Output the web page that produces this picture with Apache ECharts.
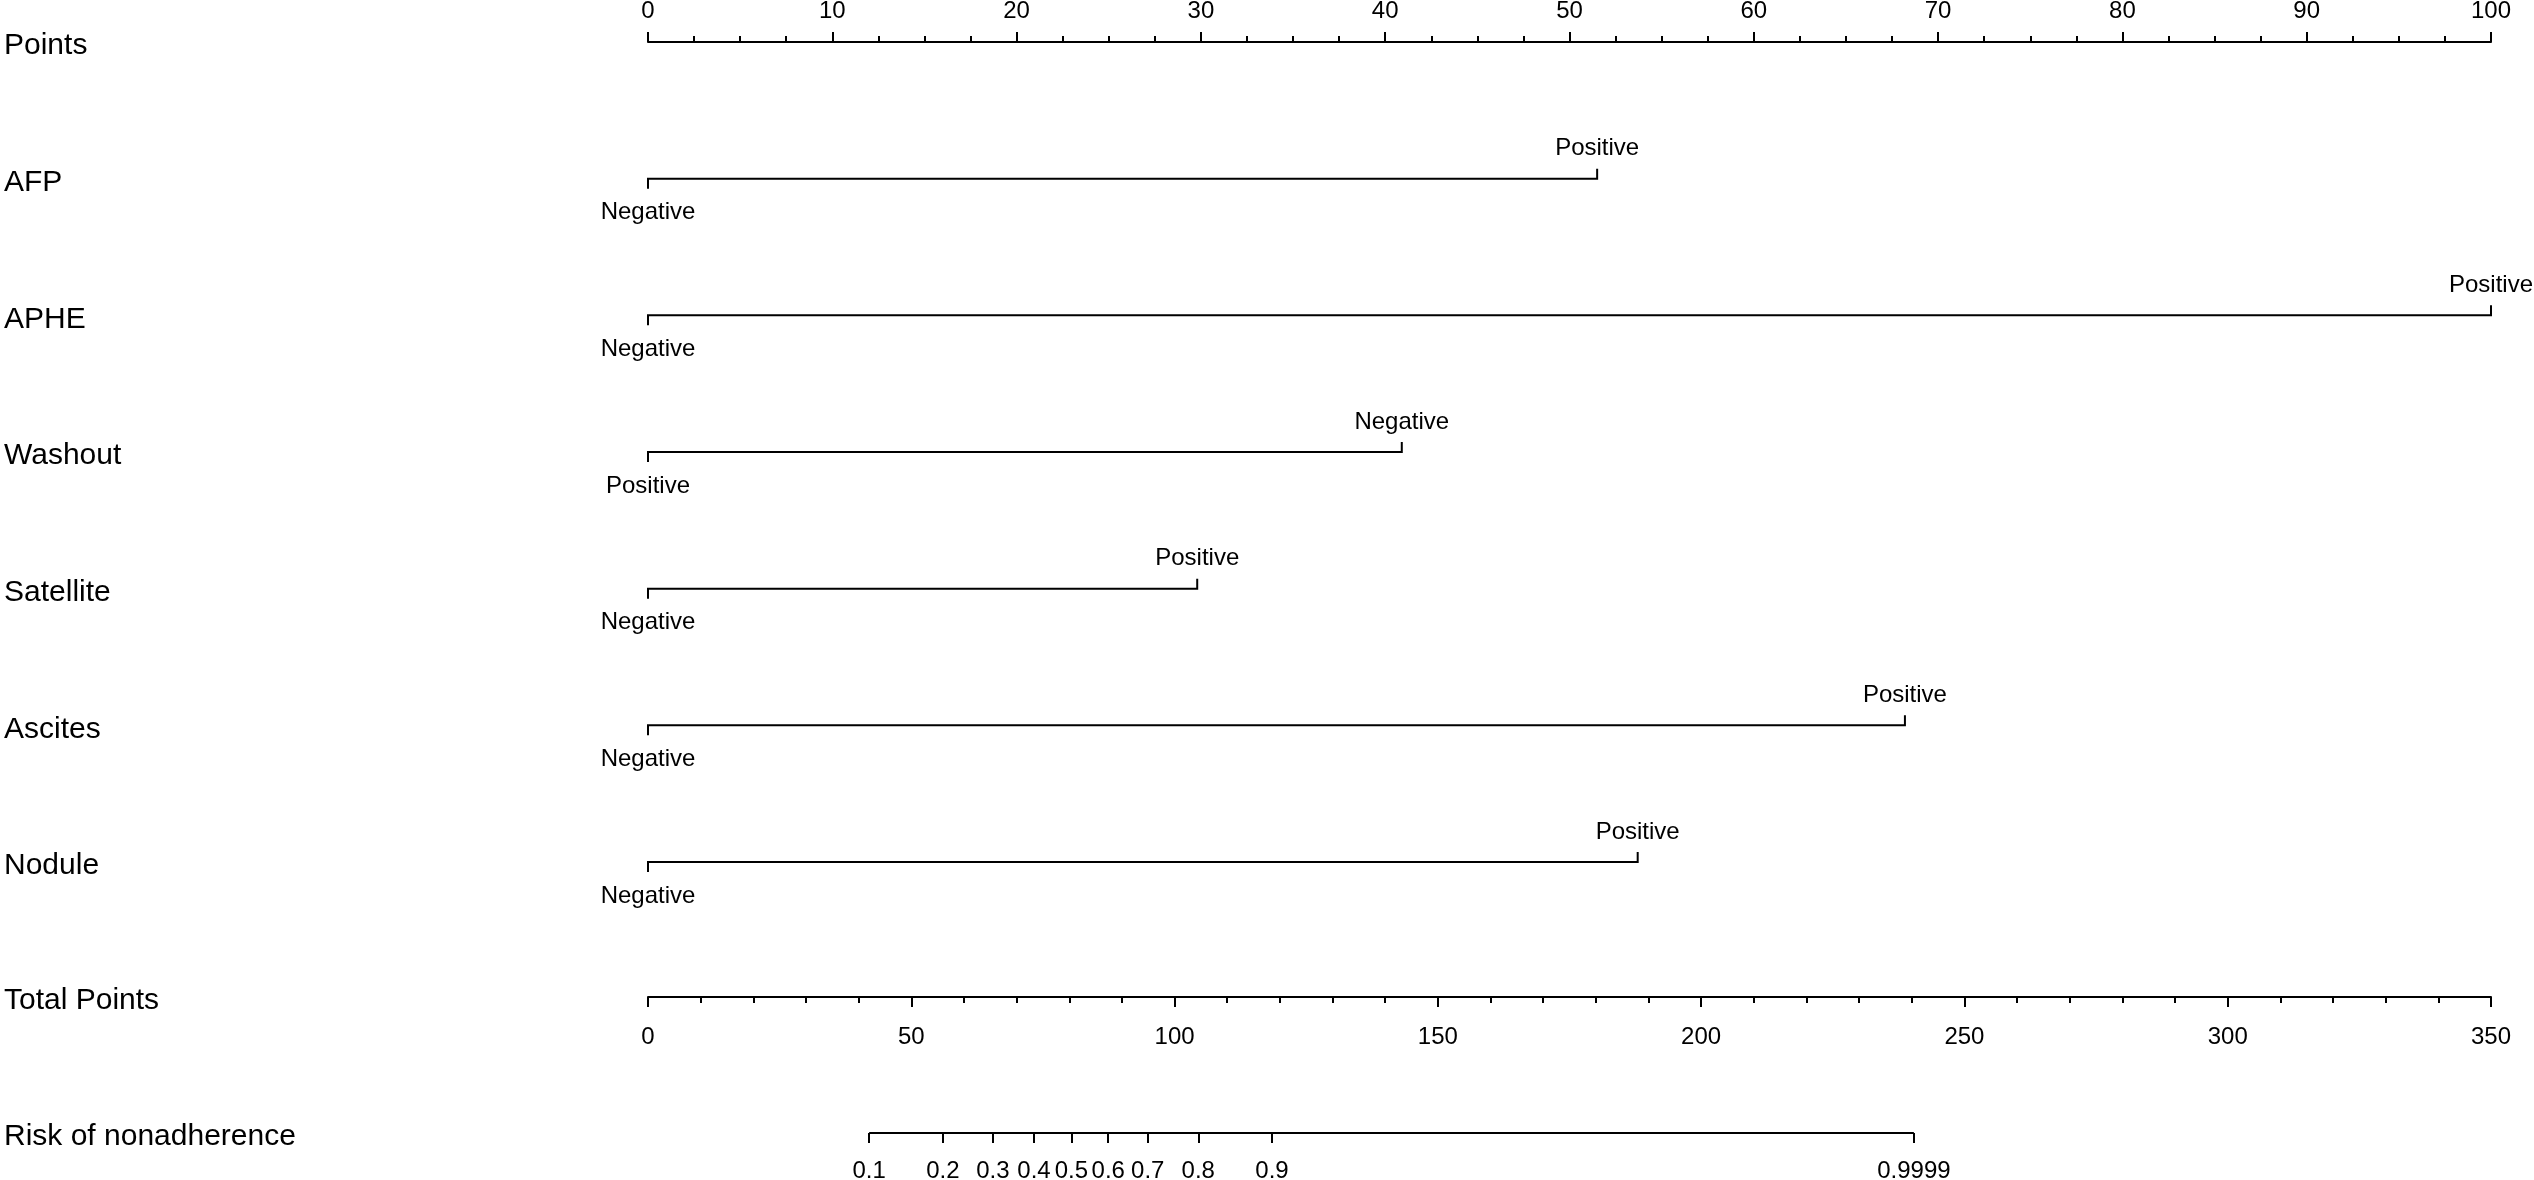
<!DOCTYPE html>
<html><head><meta charset="utf-8">
<script src="https://cdn.jsdelivr.net/npm/echarts@6/dist/echarts.min.js"></script>
<style>html,body{margin:0;padding:0;background:#fff}#c{width:2534px;height:1180px}</style>
</head><body><div id="c"></div>
<script>
// ---- data ----
const rowNames = ['Points', 'AFP', 'APHE', 'Washout', 'Satellite', 'Ascites', 'Nodule'];
const varNames = ['AFP', 'APHE', 'Washout', 'Satellite', 'Ascites', 'Nodule'];
const lowLabels = ['Negative', 'Negative', 'Positive', 'Negative', 'Negative', 'Negative'];
const highLabels = ['Positive', 'Positive', 'Negative', 'Positive', 'Positive', 'Positive'];
const highPoints = [51.5, 100, 40.9, 29.8, 68.2, 53.7];
const pointsMin = 0, pointsMax = 100, pointsStep = 10;
const totalRowNames = ['Total Points', 'Risk of nonadherence'];
const totalMin = 0, totalMax = 350, totalStep = 50;
const riskLabels = ['0.1', '0.2', '0.3', '0.4', '0.5', '0.6', '0.7', '0.8', '0.9', '0.9999'];
const riskTotalPoints = [42.0, 56.0, 65.5, 73.3, 80.4, 87.4, 94.9, 104.5, 118.5, 240.4];

const FONT = '"Liberation Sans", Arial, Helvetica, sans-serif';
const INK = '#000';
const LW = 2;

const chart = echarts.init(document.getElementById('c'), null, {renderer: 'canvas'});

const tickFont = 24;
const nameFont = 30;

const nameLabel = {
  show: true, interval: 0, align: 'left', margin: 644, color: INK, fontSize: nameFont, fontFamily: FONT,
  formatter: function (v) { return '{n|' + v + '}'; },
  rich: {n: {fontSize: nameFont, fontFamily: FONT, color: INK, padding: [8, 0, 0, 0]}}
};

const option = {
  backgroundColor: '#fff',
  animation: false,
  grid: [
    {left: 648, right: 43, top: 42, bottom: 318, outerBoundsMode: 'none', containLabel: false},
    {left: 648, right: 43, top: 997, bottom: 47, outerBoundsMode: 'none', containLabel: false}
  ],
  xAxis: [
    {
      gridIndex: 0, type: 'value', position: 'top', min: pointsMin, max: pointsMax, interval: pointsStep,
      axisLine: {show: true, lineStyle: {color: INK, width: LW}},
      axisTick: {show: true, length: 10, lineStyle: {color: INK, width: LW}},
      minorTick: {show: true, splitNumber: 4, length: 6, lineStyle: {color: INK, width: LW}},
      axisLabel: {show: true, margin: 19, color: INK, fontSize: tickFont, fontFamily: FONT, showMinLabel: true, showMaxLabel: true},
      splitLine: {show: false}, minorSplitLine: {show: false}
    },
    {
      gridIndex: 1, type: 'value', position: 'top', min: totalMin, max: totalMax, interval: totalStep,
      axisLine: {show: true, lineStyle: {color: INK, width: LW}},
      axisTick: {show: true, inside: true, length: 10, lineStyle: {color: INK, width: LW}},
      minorTick: {show: true, splitNumber: 5, length: 6, lineStyle: {color: INK, width: LW}},
      axisLabel: {show: true, inside: true, margin: 28, color: INK, fontSize: tickFont, fontFamily: FONT, showMinLabel: true, showMaxLabel: true},
      splitLine: {show: false}, minorSplitLine: {show: false}
    },
    {
      gridIndex: 1, type: 'value', position: 'bottom', min: totalMin, max: totalMax,
      axisLine: {show: false},
      axisTick: {show: true, length: 10, customValues: riskTotalPoints, lineStyle: {color: INK, width: LW}},
      axisLabel: {
        show: true, margin: 26, color: INK, fontSize: tickFont, fontFamily: FONT,
        customValues: riskTotalPoints,
        formatter: function (v) {
          let best = 0, d = Infinity;
          riskTotalPoints.forEach(function (p, i) { if (Math.abs(p - v) < d) { d = Math.abs(p - v); best = i; } });
          return riskLabels[best];
        }
      },
      splitLine: {show: false}
    }
  ],
  yAxis: [
    {
      gridIndex: 0, type: 'category', data: rowNames, inverse: true, boundaryGap: false,
      axisLine: {show: false}, axisTick: {show: false}, splitLine: {show: false},
      axisLabel: nameLabel
    },
    {
      gridIndex: 1, type: 'category', data: totalRowNames, inverse: true, boundaryGap: false,
      axisLine: {show: false}, axisTick: {show: false}, splitLine: {show: false},
      axisLabel: nameLabel
    }
  ],
  series: [
    {
      type: 'custom', xAxisIndex: 0, yAxisIndex: 0, silent: true, clip: false,
      data: varNames.map(function (n, i) { return [highPoints[i], n]; }),
      encode: {x: 0, y: 1},
      renderItem: function (params, api) {
        const i = params.dataIndex;
        const v = api.value(0);
        const row = api.value(1);
        const p0 = api.coord([0, row]);
        const p1 = api.coord([v, row]);
        return {
          type: 'group',
          children: [
            {type: 'polyline', shape: {points: [[p0[0], p0[1] + 10], [p0[0], p0[1]], [p1[0], p1[1]], [p1[0], p1[1] - 10]]},
             style: {stroke: INK, lineWidth: LW, fill: null}},
            {type: 'text', x: p0[0], y: p0[1] + 34,
             style: {text: lowLabels[i], fill: INK, fontSize: tickFont, fontFamily: FONT, align: 'center', verticalAlign: 'middle'}},
            {type: 'text', x: p1[0], y: p1[1] - 30,
             style: {text: highLabels[i], fill: INK, fontSize: tickFont, fontFamily: FONT, align: 'center', verticalAlign: 'middle'}}
          ]
        };
      }
    },
    {
      type: 'line', xAxisIndex: 2, yAxisIndex: 1, silent: true, symbol: 'none',
      lineStyle: {color: INK, width: LW},
      data: [[riskTotalPoints[0], totalRowNames[1]], [riskTotalPoints[riskTotalPoints.length - 1], totalRowNames[1]]]
    }
  ]
};
chart.setOption(option);
</script>
</body></html>
